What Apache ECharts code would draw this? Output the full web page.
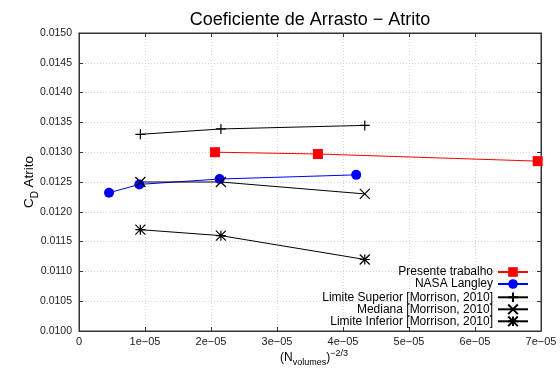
<!DOCTYPE html>
<html><head><meta charset="utf-8">
<script src="https://cdn.jsdelivr.net/npm/echarts@6/dist/echarts.min.js"></script>
<style>html,body{margin:0;padding:0;background:#fff}#c{width:560px;height:369px}</style>
</head><body><div id="c"></div>
<script>
// ---- data ----
var titleText = 'Coeficiente de Arrasto − Atrito';
var seriesNames = ['Presente trabalho', 'NASA Langley', 'Limite Superior [Morrison, 2010]', 'Mediana [Morrison, 2010]', 'Limite Inferior [Morrison, 2010]'];
var presenteX = [2.06e-5, 3.62e-5, 6.95e-5];
var presenteY = [0.01300, 0.01297, 0.01285];
var nasaX = [0.455e-5, 0.915e-5, 2.13e-5, 4.20e-5];
var nasaY = [0.01232, 0.01246, 0.01255, 0.01262];
var morrisonX = [0.93e-5, 2.15e-5, 4.33e-5];
var supY = [0.01330, 0.01339, 0.01345];
var medY = [0.01250, 0.01250, 0.01230];
var infY = [0.01170, 0.01160, 0.01120];
var xTickLabels = ['0', '1e−05', '2e−05', '3e−05', '4e−05', '5e−05', '6e−05', '7e−05'];
var yTickLabels = ['0.0100','0.0105','0.0110','0.0115','0.0120','0.0125','0.0130','0.0135','0.0140','0.0145','0.0150'];

function pairs(xs, ys){ return xs.map(function(x,i){ return [x, ys[i]]; }); }

var FONT = 'Liberation Sans';
var plusPath = 'path://M0,5L10,5M5,0L5,10';
var crossPath = 'path://M0,0L10,10M0,10L10,0';
var starPath = 'path://M0,0L10,10M0,10L10,0M5,0L5,10M0,5L10,5';

function blackSeries(name, ys, sym){
  return {
    name: name, type: 'line', data: pairs(morrisonX, ys),
    symbol: sym, symbolSize: 10,
    lineStyle: {color: '#000', width: 1},
    itemStyle: {color: 'none', borderColor: '#000', borderWidth: 1.2},
    emphasis: {disabled: true}
  };
}

var legendTops = [266, 278, 290, 302, 314];
var legends = seriesNames.map(function(n, i){
  return {
    data: [n], right: 31, top: legendTops[i], orient: 'vertical', align: 'right',
    itemWidth: 30, itemHeight: 12, padding: 0, itemGap: 0,
    textStyle: {fontFamily: FONT, fontSize: 12, color: '#000', lineHeight: 12},
    selectedMode: false
  };
});

function axisLineStyle(){ return {show: true, onZero: false, lineStyle: {color: '#333', width: 1}}; }
function tickStyle(){ return {show: true, inside: true, length: 4, lineStyle: {color: '#333'}}; }
var splitStyle = {show: true, lineStyle: {color: '#d4d4d4', type: [1, 2], width: 1}};

var chart = echarts.init(document.getElementById('c'), null, {renderer: 'canvas'});
chart.setOption({
  animation: false,
  backgroundColor: '#fff',
  title: {text: titleText, left: 305, textAlign: 'center', top: 6,
    textStyle: {fontFamily: FONT, fontSize: 18, fontWeight: 'normal', color: '#000'}},
  legend: legends,
  grid: {left: 79, right: 19, top: 33, bottom: 38, show: true, borderColor: '#333', borderWidth: 1,
    backgroundColor: 'transparent', outerBoundsMode: 'none', containLabel: false},
  xAxis: [{
    type: 'value', min: 0, max: 7e-5, interval: 1e-5,
    axisLine: axisLineStyle(), axisTick: tickStyle(),
    axisLabel: {fontFamily: FONT, fontSize: 11, color: '#222', margin: 5,
      formatter: function(v){ return xTickLabels[Math.round(v / 1e-5)]; }},
    splitLine: splitStyle,
    name: '{a|(N}{s|volumes}{a|)}{p|−2/3}', nameLocation: 'middle', nameGap: 18, nameMoveOverlap: false,
    nameTextStyle: {fontFamily: FONT, fontSize: 12, color: '#000', padding: [0, 0, 0, 8],
      rich: {
        a: {fontFamily: FONT, fontSize: 12, color: '#000', lineHeight: 18},
        s: {fontFamily: FONT, fontSize: 9, color: '#000', lineHeight: 10, verticalAlign: 'bottom'},
        p: {fontFamily: FONT, fontSize: 9, color: '#000', lineHeight: 6, verticalAlign: 'top'}
      }}
  }, {
    type: 'value', position: 'top', min: 0, max: 7e-5, interval: 1e-5,
    axisLine: axisLineStyle(), axisTick: tickStyle(),
    axisLabel: {show: false}, splitLine: {show: false}
  }],
  yAxis: [{
    type: 'value', min: 0.0100, max: 0.0150, interval: 0.0005,
    axisLine: axisLineStyle(), axisTick: tickStyle(),
    axisLabel: {fontFamily: FONT, fontSize: 10.5, color: '#222', margin: 7,
      formatter: function(v){ return yTickLabels[Math.round((v - 0.0100) / 0.0005)]; }},
    splitLine: splitStyle,
    name: '{a|C}{s|D}{a| Atrito}', nameLocation: 'middle', nameRotate: 90, nameGap: 39, nameMoveOverlap: false,
    nameTextStyle: {fontFamily: FONT, fontSize: 13.5, color: '#000',
      rich: {
        a: {fontFamily: FONT, fontSize: 13.5, color: '#000', lineHeight: 22},
        s: {fontFamily: FONT, fontSize: 10, color: '#000', lineHeight: 12, verticalAlign: 'bottom'}
      }}
  }, {
    type: 'value', position: 'right', min: 0.0100, max: 0.0150, interval: 0.0005,
    axisLine: axisLineStyle(), axisTick: tickStyle(),
    axisLabel: {show: false}, splitLine: {show: false}
  }],
  series: [
    {name: seriesNames[0], type: 'line', data: pairs(presenteX, presenteY),
     symbol: 'rect', symbolSize: 10, lineStyle: {color: '#ff0000', width: 1},
     itemStyle: {color: '#ff0000'}, emphasis: {disabled: true}},
    {name: seriesNames[1], type: 'line', data: pairs(nasaX, nasaY),
     symbol: 'circle', symbolSize: 10, lineStyle: {color: '#0000ff', width: 1},
     itemStyle: {color: '#0000ff'}, emphasis: {disabled: true}},
    blackSeries(seriesNames[2], supY, plusPath),
    blackSeries(seriesNames[3], medY, crossPath),
    blackSeries(seriesNames[4], infY, starPath),
    {name: '_frame', type: 'line', xAxisIndex: 1, yAxisIndex: 1, data: [], silent: true}
  ]
});
</script>
</body></html>
